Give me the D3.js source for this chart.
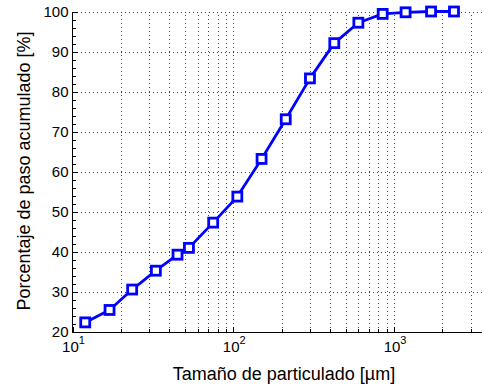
<!DOCTYPE html>
<html>
<head>
<meta charset="utf-8">
<script src="https://cdn.jsdelivr.net/npm/d3@7"></script>
<style>
  html, body { margin: 0; padding: 0; background: #fff; }
  svg { display: block; font-family: "Liberation Sans", Arial, Helvetica, sans-serif; }
</style>
</head>
<body>
<svg id="chart" width="482" height="385"></svg>
<script>
// Particle size distribution (cumulative passing vs. sieve size)
const sizes   = [12, 17, 23.5, 33, 45, 53, 75, 106, 150, 212, 300, 425, 600, 850, 1180, 1700, 2360];
const passing = [22.4, 25.5, 30.6, 35.3, 39.3, 41.0, 47.3, 53.8, 63.2, 73.1, 83.3, 92.1, 97.2, 99.4, 99.8, 100, 100];

const xDomain = [10, 3500];
const yDomain = [20, 100];
const yTicks = [20, 30, 40, 50, 60, 70, 80, 90, 100];
const xMajorExponents = [1, 2, 3];
const xLabel = "Tamaño de particulado [µm]";
const yLabel = "Porcentaje de paso acumulado [%]";

const svg = d3.select("#chart");
const pLeft = 72.5, pRight = 481.5, pTop = 11.5, pBottom = 332;

const x = d3.scaleLog().domain(xDomain).range([pLeft, pRight]);
const y = d3.scaleLinear().domain(yDomain).range([pBottom, pTop]);

// minor positions of the log axis (2..9 within each decade)
const xAll = [];
for (let e = 1; e <= 3; e++) {
  for (let m = 1; m <= 9; m++) {
    const v = m * Math.pow(10, e);
    if (v >= xDomain[0] && v <= xDomain[1]) xAll.push(v);
  }
}
const xMajor = xMajorExponents.map(e => Math.pow(10, e));
const yMinor = d3.range(20, 100.01, 2);

const grid = svg.append("g")
  .attr("stroke", "#444")
  .attr("stroke-width", 1)
  .attr("stroke-dasharray", "1,3")
  .attr("shape-rendering", "crispEdges");

// vertical dotted grid (major + minor decades)
grid.selectAll("line.gx").data(xAll.filter(v => v > xDomain[0])).join("line")
  .attr("x1", d => Math.round(x(d)) + 0.5).attr("x2", d => Math.round(x(d)) + 0.5)
  .attr("y1", pBottom).attr("y2", pTop);

// horizontal dotted grid
grid.selectAll("line.gy").data(yTicks.filter(v => v > yDomain[0])).join("line")
  .attr("x1", pLeft).attr("x2", pRight)
  .attr("y1", d => Math.round(y(d)) + 0.5).attr("y2", d => Math.round(y(d)) + 0.5);

// axes lines
const ax = svg.append("g").attr("stroke", "#000").attr("stroke-width", 1).attr("shape-rendering", "crispEdges");
ax.append("line").attr("x1", pLeft).attr("x2", pRight + 1).attr("y1", pBottom + 0.5).attr("y2", pBottom + 0.5);
ax.append("line").attr("x1", pLeft).attr("x2", pLeft).attr("y1", pTop).attr("y2", pBottom + 0.5);

// x ticks (inward)
ax.selectAll("line.xt").data(xAll).join("line")
  .attr("x1", d => Math.round(x(d)) + 0.5).attr("x2", d => Math.round(x(d)) + 0.5)
  .attr("y1", pBottom).attr("y2", d => pBottom - (xMajor.includes(d) ? 5 : 3));

// y ticks (inward), minor every 2
ax.selectAll("line.yt").data(yMinor).join("line")
  .attr("y1", d => Math.round(y(d)) + 0.5).attr("y2", d => Math.round(y(d)) + 0.5)
  .attr("x1", pLeft).attr("x2", d => pLeft + (yTicks.includes(d) ? 5 : 3));

// y tick labels
svg.append("g").selectAll("text").data(yTicks).join("text")
  .attr("x", pLeft - 4).attr("y", d => y(d)).attr("dy", "0.36em")
  .attr("text-anchor", "end").attr("font-size", 15).attr("fill", "#000")
  .text(d => d);

// x tick labels with superscript exponent
const xl = svg.append("g").selectAll("text").data(xMajorExponents).join("text")
  .attr("x", d => x(Math.pow(10, d)) + 1).attr("y", pBottom + 20)
  .attr("text-anchor", "middle").attr("font-size", 15).attr("fill", "#000");
xl.append("tspan").text("10");
xl.append("tspan").attr("dy", -8).attr("font-size", 11).text(d => d);

// axis titles
svg.append("text")
  .attr("x", 284).attr("y", 380).attr("text-anchor", "middle")
  .attr("font-size", 18).attr("fill", "#000").text(xLabel);
svg.append("text")
  .attr("transform", "translate(30,171) rotate(-90)").attr("text-anchor", "middle")
  .attr("font-size", 18).attr("fill", "#000").text(yLabel);

// curve
const pts = sizes.map((s, i) => [s, passing[i]]);
svg.append("path").datum(pts)
  .attr("fill", "none").attr("stroke", "#0000ff").attr("stroke-width", 2.8)
  .attr("stroke-linejoin", "round")
  .attr("d", d3.line().x(d => x(d[0])).y(d => y(d[1])));

svg.append("g").selectAll("rect").data(pts).join("rect")
  .attr("x", d => x(d[0]) - 4.5).attr("y", d => y(d[1]) - 4.5)
  .attr("width", 9).attr("height", 9)
  .attr("fill", "#fff").attr("stroke", "#0000ff").attr("stroke-width", 2.8);
</script>
</body>
</html>
